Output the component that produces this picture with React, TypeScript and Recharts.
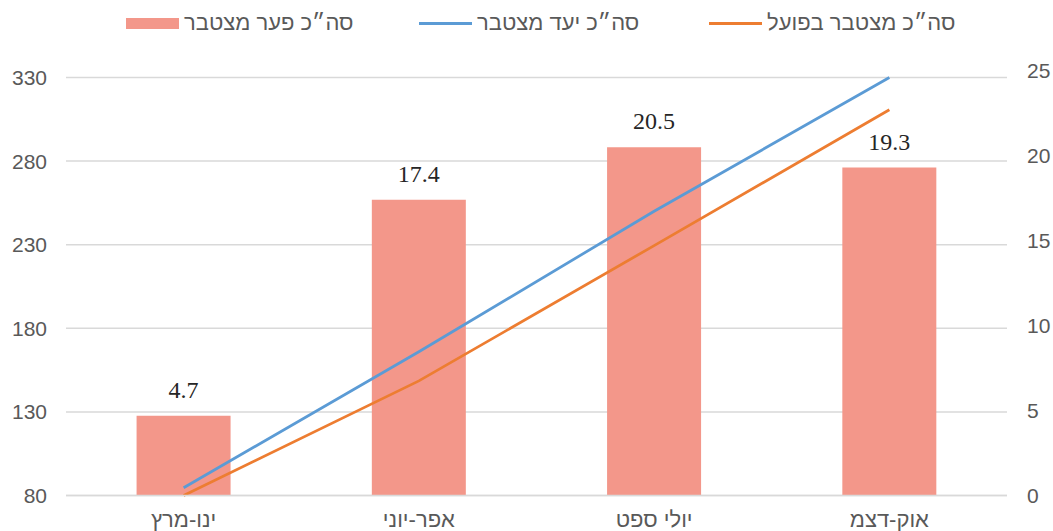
import React from 'react';
import { ComposedChart, Bar, Line, XAxis, YAxis, CartesianGrid, LabelList } from 'recharts';

const categories = ['ינו-מרץ', 'אפר-יוני', 'יולי ספט', 'אוק-דצמ'];
const gapValues = [4.7, 17.4, 20.5, 19.3];
const targetValues = [84.7, 166, 250, 330];
const actualValues = [80, 148.6, 229.5, 310.7];

const leftTicks = [80, 130, 180, 230, 280, 330];
const rightTicks = [0, 5, 10, 15, 20, 25];

const SERIES_NAMES = {
  gap: 'סה״כ פער מצטבר',
  target: 'סה״כ יעד מצטבר',
  actual: 'סה״כ מצטבר בפועל',
};

const BAR_COLOR = '#F3978A';
const BLUE = '#5B9BD5';
const ORANGE = '#ED7D31';
const TEXT = '#595959';
const GRID = '#D9D9D9';
const SANS = '"Liberation Sans", Arial, sans-serif';

const data = categories.map((name, i) => ({
  name,
  gap: gapValues[i],
  target: targetValues[i],
  actual: actualValues[i],
}));

const legendItems = [
  { key: 'gap', label: SERIES_NAMES.gap, color: BAR_COLOR, kind: 'bar', left: 126 },
  { key: 'target', label: SERIES_NAMES.target, color: BLUE, kind: 'line', left: 419 },
  { key: 'actual', label: SERIES_NAMES.actual, color: ORANGE, kind: 'line', left: 709 },
];

function ChartLegend() {
  return (
    <>
      {legendItems.map((it) => (
        <div
          key={it.key}
          style={{
            position: 'absolute',
            left: it.left,
            top: 10,
            height: 26,
            display: 'flex',
            alignItems: 'center',
            fontFamily: SANS,
            fontSize: 22,
            color: TEXT,
            whiteSpace: 'nowrap',
          }}
        >
          <span
            style={{
              display: 'inline-block',
              width: 53,
              height: it.kind === 'bar' ? 11 : 3,
              background: it.color,
              marginRight: 5,
            }}
          />
          <span dir="rtl">{it.label}</span>
        </div>
      ))}
    </>
  );
}

export default function App() {
  return (
    <div style={{ position: 'absolute', left: 0, top: 0, width: 1053, height: 531, background: '#fff' }}>
      <ChartLegend />
      <ComposedChart
        width={1053}
        height={531}
        data={data}
        margin={{ top: 77.5, right: 0, bottom: 0, left: 0 }}
        barCategoryGap="30%"
      >
        <CartesianGrid yAxisId="left" vertical={false} stroke={GRID} strokeWidth={1.5} />
        <XAxis
          dataKey="name"
          height={35.4}
          axisLine={{ stroke: GRID, strokeWidth: 1.5 }}
          tickLine={false}
          tickMargin={10}
          tick={{ fill: TEXT, fontSize: 22, fontFamily: SANS }}
          interval={0}
        />
        <YAxis
          yAxisId="left"
          orientation="left"
          width={66}
          domain={[80, 330]}
          ticks={leftTicks}
          interval={0}
          axisLine={false}
          tickLine={false}
          tickMargin={13}
          tick={{ fill: TEXT, fontSize: 21, fontFamily: SANS }}
        />
        <YAxis
          yAxisId="right"
          orientation="right"
          width={46}
          domain={[0, 24.6]}
          allowDataOverflow
          ticks={rightTicks}
          interval={0}
          axisLine={false}
          tickLine={false}
          tickMargin={14}
          tick={{ fill: TEXT, fontSize: 21, fontFamily: SANS, textAnchor: 'start' }}
        />
        <Bar yAxisId="right" dataKey="gap" name={SERIES_NAMES.gap} fill={BAR_COLOR} isAnimationActive={false}>
          <LabelList
            dataKey="gap"
            position="top"
            offset={18}
            fill="#262626"
            style={{ fontFamily: '"Liberation Serif", "Times New Roman", serif', fontSize: 24 }}
          />
        </Bar>
        <Line
          yAxisId="left"
          type="linear"
          dataKey="target"
          name={SERIES_NAMES.target}
          stroke={BLUE}
          strokeWidth={2.75}
          dot={false}
          activeDot={false}
          isAnimationActive={false}
        />
        <Line
          yAxisId="left"
          type="linear"
          dataKey="actual"
          name={SERIES_NAMES.actual}
          stroke={ORANGE}
          strokeWidth={2.75}
          dot={false}
          activeDot={false}
          isAnimationActive={false}
        />
      </ComposedChart>
    </div>
  );
}
